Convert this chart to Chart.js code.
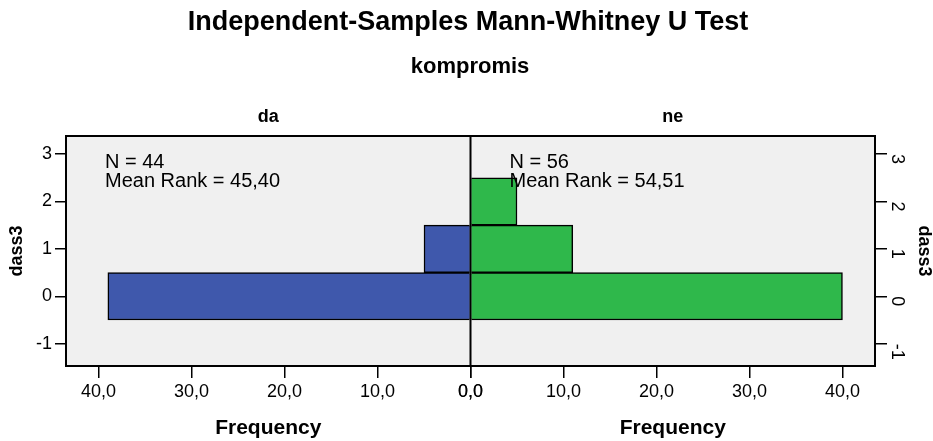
<!DOCTYPE html>
<html>
<head>
<meta charset="utf-8">
<script src="https://cdn.jsdelivr.net/npm/chart.js@4/dist/chart.umd.min.js"></script>
<style>
  body { margin: 0; background: #fff; }
  #wrap { width: 933px; height: 441px; }
</style>
</head>
<body>
<div id="wrap"><canvas id="mwChart"></canvas></div>
<script>
const groups = ["da", "ne"];
const daScores = [0, 1];
const daFreq = [39, 5];
const neScores = [0, 1, 2];
const neFreq = [40, 11, 5];
const groupN = [44, 56];
const meanRanks = ["45,40", "54,51"];
const freqTicks = [0, 10, 20, 30, 40];
const dassTicks = [-1, 0, 1, 2, 3];

const FONT = "'Liberation Sans', Arial, sans-serif";

const toPoints = (scores, freq) => scores.map((s, i) => ({ y: s, x: freq[i] }));
const fmtFreq = (v) => v.toFixed(1).replace(".", ",");

// background, frame, centre line and text
const panelPlugin = {
  id: "panelPlugin",
  beforeDraw(chart) {
    const { ctx, chartArea: a } = chart;
    ctx.save();
    ctx.fillStyle = "#f0f0f0";
    ctx.fillRect(a.left, a.top, a.right - a.left, a.bottom - a.top);
    ctx.restore();
  },
  afterDatasetsDraw(chart) {
    const { ctx, chartArea: a } = chart;
    const mid = chart.scales.xR.getPixelForValue(0);
    ctx.save();
    ctx.strokeStyle = "#000";
    ctx.lineWidth = 2;
    ctx.strokeRect(a.left, a.top, a.right - a.left, a.bottom - a.top);
    ctx.beginPath();
    ctx.moveTo(mid, a.top);
    ctx.lineTo(mid, a.bottom);
    ctx.stroke();

    // N / mean rank notes
    ctx.fillStyle = "#000";
    ctx.font = "20px " + FONT;
    ctx.textBaseline = "middle";
    ctx.textAlign = "left";
    const starts = [a.left + 39, mid + 39];
    starts.forEach((x, i) => {
      ctx.fillText("N = " + groupN[i], x, a.top + 26);
      ctx.fillText("Mean Rank = " + meanRanks[i], x, a.top + 45);
    });
    ctx.restore();
  },
  afterDraw(chart) {
    const { ctx, chartArea: a } = chart;
    const mid = chart.scales.xR.getPixelForValue(0);
    ctx.save();
    ctx.fillStyle = "#000";
    ctx.textAlign = "center";
    ctx.textBaseline = "middle";
    ctx.font = "bold 27px " + FONT;
    ctx.fillText("Independent-Samples Mann-Whitney U Test", 468, 23);
    ctx.font = "bold 22px " + FONT;
    ctx.fillText("kompromis", 470, 67);
    ctx.font = "bold 18px " + FONT;
    ctx.fillText(groups[0], (a.left + mid) / 2, 117);
    ctx.fillText(groups[1], (mid + a.right) / 2, 117);
    ctx.restore();
  },
};

const freqAxis = (reverse) => ({
  type: "linear",
  position: "bottom",
  stack: "freq",
  reverse: reverse,
  min: 0,
  max: 43.5,
  afterBuildTicks: (s) => { s.ticks = freqTicks.map((v) => ({ value: v })); },
  afterFit: (s) => { s.height = 75; },
  border: { display: false },
  grid: { drawOnChartArea: false, color: "#000", lineWidth: 1.5, tickLength: 12 },
  ticks: { color: "#000", padding: 3, autoSkip: false, maxRotation: 0, font: { family: FONT, size: 18 }, callback: (v) => fmtFreq(v) },
  title: { display: true, text: "Frequency", color: "#000", padding: 0, font: { family: FONT, size: 21, weight: "bold" } },
});

const dassAxis = (pos) => ({
  type: "linear",
  axis: "y",
  position: pos,
  min: -1.47,
  max: 3.38,
  offset: false,
  afterBuildTicks: (s) => { s.ticks = dassTicks.map((v) => ({ value: v })); },
  afterFit: (s) => { s.width = pos === "left" ? 66 : 58; },
  border: { display: false },
  grid: { drawOnChartArea: false, offset: false, color: "#000", lineWidth: 1.5, tickLength: pos === "left" ? 11 : 12 },
  ticks: {
    color: "#000",
    padding: pos === "left" ? 3 : 10,
    autoSkip: false,
    minRotation: pos === "left" ? 0 : -90,
    maxRotation: pos === "left" ? 0 : -90,
    font: { family: FONT, size: 18 },
  },
  title: {
    display: true,
    text: "dass3",
    color: "#000",
    padding: { top: pos === "left" ? 8 : 0, bottom: 0 },
    font: { family: FONT, size: 18, weight: "bold", lineHeight: 1 },
  },
});

new Chart(document.getElementById("mwChart"), {
  type: "bar",
  data: {
    datasets: [
      {
        label: groups[0],
        data: toPoints(daScores, daFreq),
        xAxisID: "xL",
        yAxisID: "y",
        backgroundColor: "#3f58ac",
        borderColor: "#000",
        borderWidth: 1.5,
      },
      {
        label: groups[1],
        data: toPoints(neScores, neFreq),
        xAxisID: "xR",
        yAxisID: "y",
        backgroundColor: "#2fb84b",
        borderColor: "#000",
        borderWidth: 1.5,
      },
    ],
  },
  options: {
    indexAxis: "y",
    responsive: true,
    maintainAspectRatio: false,
    animation: false,
    grouped: false,
    barPercentage: 1,
    categoryPercentage: 1,
    layout: { padding: { top: 136, left: 0, right: 0, bottom: 0 } },
    plugins: {
      legend: { display: false },
      tooltip: { enabled: false },
    },
    scales: {
      xL: freqAxis(true),
      xR: freqAxis(false),
      y: dassAxis("left"),
      y2: dassAxis("right"),
    },
  },
  plugins: [panelPlugin],
});
</script>
</body>
</html>
